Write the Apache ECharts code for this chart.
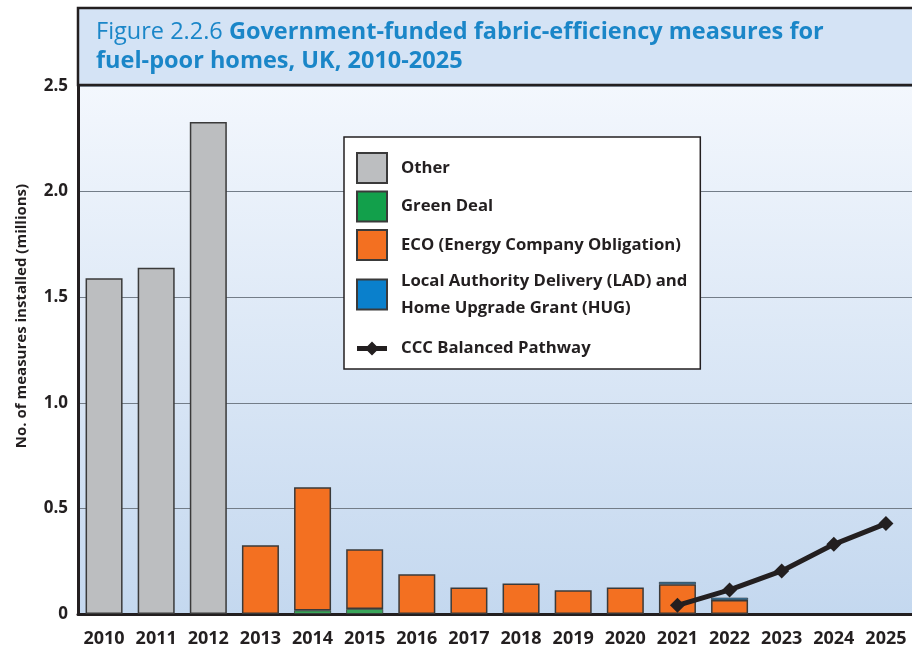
<!DOCTYPE html>
<html>
<head>
<meta charset="utf-8">
<script src="https://cdn.jsdelivr.net/npm/echarts@6/dist/echarts.min.js"></script>
<style>
  html, body { margin: 0; padding: 0; background: #ffffff; }
  #main { width: 912px; height: 654px; }
</style>
</head>
<body>
<div id="main"></div>
<script>
const years = ['2010','2011','2012','2013','2014','2015','2016','2017','2018','2019','2020','2021','2022','2023','2024','2025'];
const other = [1.59, 1.64, 2.33, null, null, null, null, null, null, null, null, null, null, null, null, null];
const greenDeal = [null, null, null, null, 0.017, 0.024, null, null, null, null, null, null, null, null, null, null];
const eco = [null, null, null, 0.325, 0.583, 0.282, 0.188, 0.126, 0.145, 0.112, 0.126, 0.141, 0.066, null, null, null];
const ladHug = [null, null, null, null, null, null, null, null, null, null, null, 0.011, 0.011, null, null, null];
const pathway = [null, null, null, null, null, null, null, null, null, null, null, 0.041, 0.114, 0.204, 0.33, 0.428];
const yTicks = [0, 0.5, 1.0, 1.5, 2.0, 2.5];

const FONT = 'Open Sans';
const DARK = '#231f20';
// line with a diamond on it, for the pathway legend entry
const PATH_ICON = 'path://M0,4.5 L10.5,4.5 L15,0 L19.5,4.5 L30,4.5 L30,9.5 L19.5,9.5 L15,14 L10.5,9.5 L0,9.5 Z';

let myChart = echarts.init(document.getElementById('main'))

const barBorder = { borderColor: '#3a3a3a', borderWidth: 1.5 }

myChart.setOption({
    animation: false,
    textStyle: { fontFamily: FONT },
    title: {
        left: 91,
        top: 13,
        text: '{a|Figure 2.2.6 }{b|Government-funded fabric-efficiency measures for}\n{b|fuel-poor homes, UK, 2010-2025}',
        textStyle: {
            rich: {
                a: { fontFamily: FONT, fontSize: 23.5, fontWeight: 'normal', color: '#1a86c8', lineHeight: 29 },
                b: { fontFamily: FONT, fontSize: 23.5, fontWeight: 'bold', color: '#1a86c8', lineHeight: 29 }
            }
        }
    },
    graphic: [{
        type: 'rect',
        z: 0,
        shape: { x: 78, y: 8, width: 840, height: 77 },
        style: { fill: '#d4e3f5', stroke: DARK, lineWidth: 2.5 }
    }, {
        type: 'text',
        x: 22,
        y: 316,
        rotation: Math.PI / 2,
        style: {
            text: 'No. of measures installed (millions)',
            fontFamily: FONT, fontSize: 15, fontWeight: 'bold', fill: DARK,
            align: 'center', verticalAlign: 'middle'
        }
    }],
    grid: {
        left: 78,
        right: 0,
        top: 86,
        bottom: 40,
        show: true,
        borderWidth: 0,
        backgroundColor: {
            type: 'linear', x: 0, y: 0, x2: 0, y2: 1,
            colorStops: [{ offset: 0, color: '#f3f7fd' }, { offset: 1, color: '#c4d8ef' }]
        }
    },
    legend: {
        orient: 'vertical',
        left: 344,
        top: 137,
        backgroundColor: '#ffffff',
        borderColor: DARK,
        borderWidth: 1.5,
        padding: [15, 13, 0, 12],
        itemWidth: 30,
        itemHeight: 30,
        itemGap: 6.5,
        icon: 'rect',
        textStyle: { fontFamily: FONT, fontSize: 16.7, fontWeight: 'bold', color: DARK, lineHeight: 27, padding: [0, 0, 0, 9] },
        data: [
            'Other',
            'Green Deal',
            'ECO (Energy Company Obligation)',
            'Local Authority Delivery (LAD) and\nHome Upgrade Grant (HUG)',
            { name: 'CCC Balanced Pathway', icon: PATH_ICON, itemStyle: { borderWidth: 0 }, textStyle: { lineHeight: 41 } }
        ]
    },
    xAxis: {
        type: 'category',
        data: years,
        axisLine: { lineStyle: { color: DARK, width: 3 } },
        axisTick: { show: false },
        axisLabel: { interval: 0, fontFamily: FONT, fontSize: 18, fontWeight: 'bold', color: DARK, margin: 16 }
    },
    yAxis: {
        type: 'value',
        min: 0,
        max: 2.5,
        interval: 0.5,
        axisLine: { show: true, lineStyle: { color: DARK, width: 3 } },
        axisTick: { show: false },
        splitLine: { lineStyle: { color: '#737d88', width: 1 } },
        axisLabel: {
            fontFamily: FONT, fontSize: 17, fontWeight: 'bold', color: DARK, margin: 10,
            formatter: function (v) { return yTicks.indexOf(v) === 0 ? '0' : v.toFixed(1) }
        }
    },
    series: [{
        name: 'Other',
        type: 'bar',
        stack: 'total',
        barWidth: '71%',
        color: '#bcbec0',
        itemStyle: barBorder,
        data: other
    }, {
        name: 'Green Deal',
        type: 'bar',
        stack: 'total',
        color: '#12a04b',
        itemStyle: { borderColor: '#3a3a3a', borderWidth: 1.5 },
        data: greenDeal.map(function (v) { return v === null ? null : { value: v, itemStyle: { color: '#3aa55a', borderWidth: 0.8 } } })
    }, {
        name: 'ECO (Energy Company Obligation)',
        type: 'bar',
        stack: 'total',
        color: '#f37021',
        itemStyle: barBorder,
        data: eco
    }, {
        name: 'Local Authority Delivery (LAD) and\nHome Upgrade Grant (HUG)',
        type: 'bar',
        stack: 'total',
        color: '#0a80cc',
        itemStyle: barBorder,
        data: ladHug.map(function (v) { return v === null ? null : { value: v, itemStyle: { borderWidth: 0.8 } } })
    }, {
        name: 'CCC Balanced Pathway',
        type: 'line',
        color: DARK,
        symbol: 'diamond',
        symbolSize: 15,
        z: 5,
        lineStyle: { width: 5, color: DARK },
        itemStyle: { color: DARK },
        data: pathway
    }]
});
</script>
</body>
</html>
